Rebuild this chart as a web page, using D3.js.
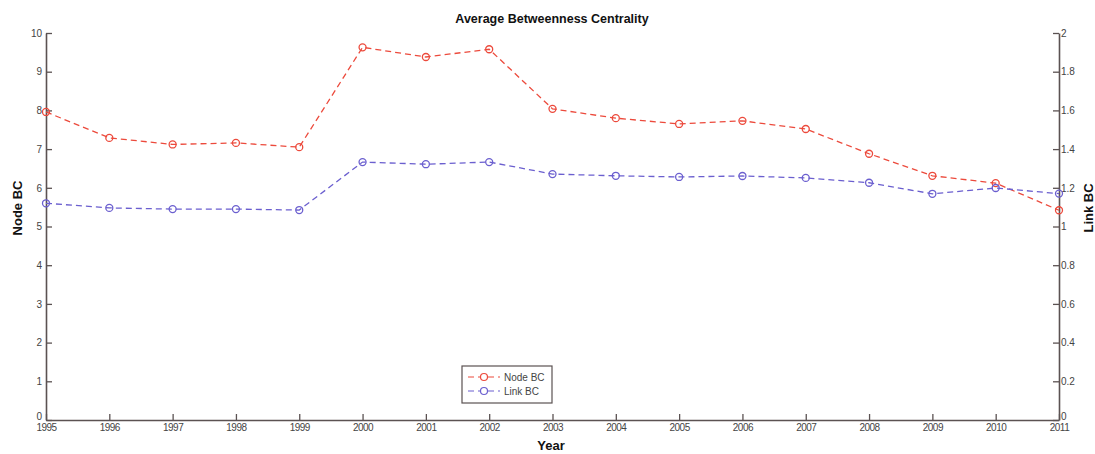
<!DOCTYPE html>
<html><head><meta charset="utf-8">
<script src="https://cdnjs.cloudflare.com/ajax/libs/d3/7.8.5/d3.min.js"></script>
<style>body{margin:0;background:#fff;}svg{display:block;}text{font-family:"Liberation Sans",Arial,sans-serif;}</style>
</head><body>
<svg id="c" width="1095" height="454"></svg>
<script>
const years = [1995,1996,1997,1998,1999,2000,2001,2002,2003,2004,2005,2006,2007,2008,2009,2010,2011];
const nodeBC = [7.96,7.29,7.12,7.16,7.05,9.63,9.38,9.58,8.04,7.80,7.65,7.73,7.52,6.88,6.31,6.12,5.42];
const linkBC = [1.12,1.096,1.09,1.09,1.085,1.333,1.322,1.333,1.271,1.262,1.256,1.261,1.251,1.226,1.169,1.199,1.170];
const leftTicks = [0,1,2,3,4,5,6,7,8,9,10];
const rightTicks = [0,0.2,0.4,0.6,0.8,1,1.2,1.4,1.6,1.8,2];
const rightTickLabels = ["0","0.2","0.4","0.6","0.8","1","1.2","1.4","1.6","1.8","2"];

const svg = d3.select("#c");
const x0 = 46, x1 = 1059, yTop = 33, yBot = 420;
const x = d3.scaleLinear().domain([1995,2011]).range([x0,x1]);
const yL = d3.scaleLinear().domain([0,10]).range([yBot,yTop]);
const yR = d3.scaleLinear().domain([0,2]).range([yBot,yTop]);
const axisCol = "#5b5252";
const red = "#ec4a3c", blue = "#6b5fcf";

const gL = svg.append("g").attr("transform",`translate(${x0},0)`)
  .call(d3.axisLeft(yL).tickValues(leftTicks).tickSizeInner(-6).tickSizeOuter(0).tickPadding(4).tickFormat(d3.format("d")));
const gR = svg.append("g").attr("transform",`translate(${x1},0)`)
  .call(d3.axisRight(yR).tickValues(rightTicks).tickSizeInner(-6).tickSizeOuter(0).tickPadding(2).tickFormat((d,i)=>rightTickLabels[i]));
const gB = svg.append("g").attr("transform",`translate(0,${yBot})`)
  .call(d3.axisBottom(x).tickValues(years).tickSizeInner(-6).tickSizeOuter(0).tickPadding(4).tickFormat(d3.format("d")));
[gL,gR,gB].forEach(g=>{
  g.selectAll("path").attr("stroke",axisCol).attr("stroke-width",1.6);
  g.selectAll("line").attr("stroke",axisCol).attr("stroke-width",1.3);
  g.selectAll("text").attr("fill","#444").attr("font-size",10).style("font-family","'Liberation Sans Narrow','Liberation Sans',Arial,sans-serif");
});
gB.selectAll("text").attr("letter-spacing","-0.5");
// lift the zero labels slightly so they sit above the year labels
gL.selectAll(".tick").filter(d=>d===0).select("text").attr("dy","-0.05em");
gR.selectAll(".tick").filter(d=>d===0).select("text").attr("dy","-0.05em");

function series(vals, y, col){
  const line = d3.line().x((d,i)=>x(years[i])).y(d=>y(d));
  svg.append("path").datum(vals).attr("d",line).attr("fill","none")
    .attr("stroke",col).attr("stroke-width",1.3).attr("stroke-dasharray","6,4");
  svg.append("g").selectAll("circle").data(vals).join("circle")
    .attr("cx",(d,i)=>x(years[i])).attr("cy",d=>y(d)).attr("r",3.5)
    .attr("fill","none").attr("stroke",col).attr("stroke-width",1.3);
}
series(nodeBC, yL, red);
series(linkBC, yR, blue);

svg.append("text").attr("x",552).attr("y",23).attr("text-anchor","middle")
  .attr("font-size",12.5).attr("font-weight","bold").attr("fill","#111").text("Average Betweenness Centrality");
svg.append("text").attr("transform","translate(22,208) rotate(-90)").attr("text-anchor","middle")
  .attr("font-size",13).attr("font-weight","bold").attr("fill","#111").text("Node BC");
svg.append("text").attr("transform","translate(1093,208) rotate(-90)").attr("text-anchor","middle")
  .attr("font-size",13).attr("font-weight","bold").attr("fill","#111").text("Link BC");
svg.append("text").attr("x",551).attr("y",450).attr("text-anchor","middle")
  .attr("font-size",13).attr("font-weight","bold").attr("fill","#111").text("Year");

const lg = svg.append("g").attr("transform","translate(462,366)");
lg.append("rect").attr("width",90).attr("height",37).attr("fill","#fff").attr("stroke",axisCol).attr("stroke-width",1.2);
const items = [{name:"Node BC",col:red},{name:"Link BC",col:blue}];
items.forEach((it,i)=>{
  const yy = 11 + i*14;
  lg.append("line").attr("x1",6).attr("x2",38).attr("y1",yy).attr("y2",yy)
    .attr("stroke",it.col).attr("stroke-width",1.2).attr("stroke-dasharray","6,4");
  lg.append("circle").attr("cx",22).attr("cy",yy).attr("r",3.5).attr("fill","#fff").attr("stroke",it.col).attr("stroke-width",1.2);
  lg.append("text").attr("x",42).attr("y",yy+3.5).attr("font-size",10).attr("fill","#444")
    .style("font-family","'Liberation Sans Narrow','Liberation Sans',Arial,sans-serif").text(it.name);
});
</script>
</body></html>
